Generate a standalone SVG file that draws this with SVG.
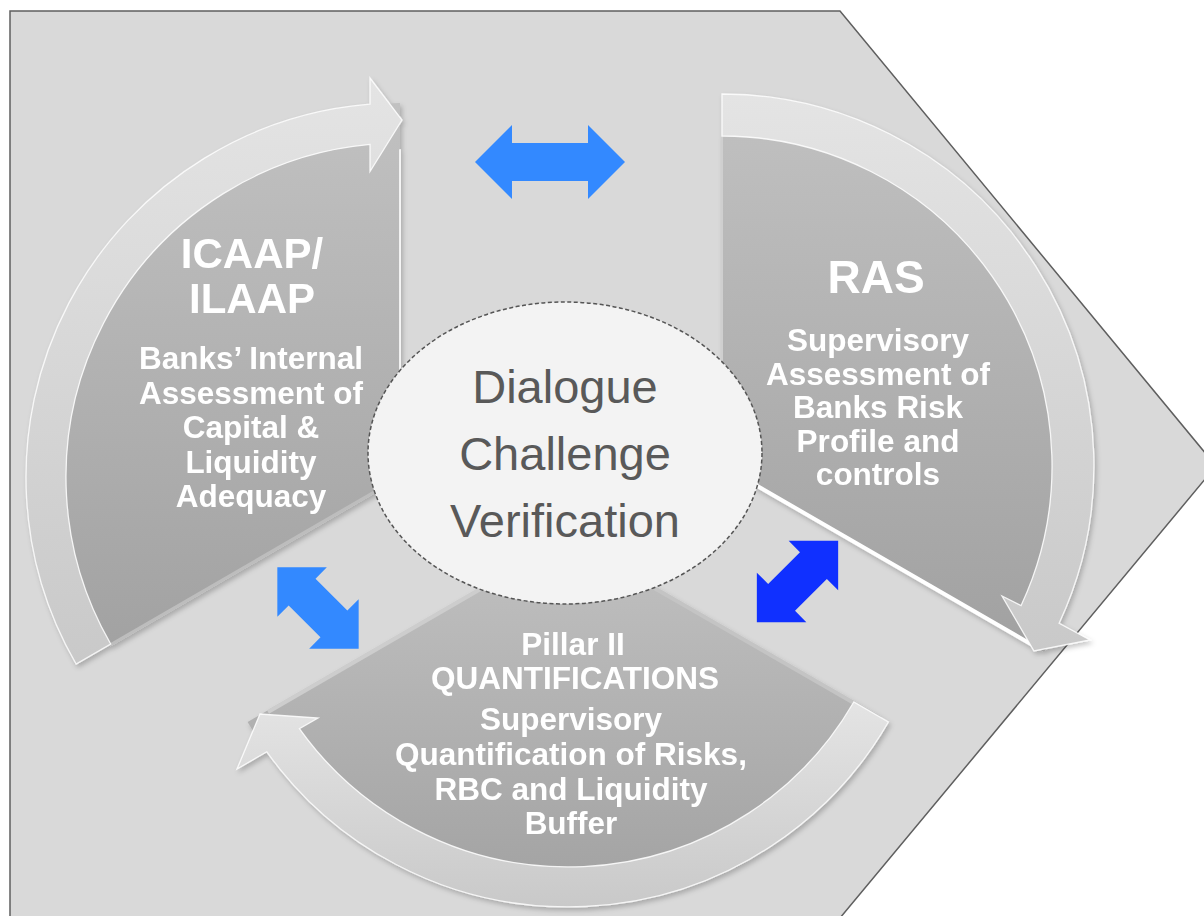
<svg xmlns="http://www.w3.org/2000/svg" width="1204" height="916" viewBox="0 0 1204 916">
<defs>
<linearGradient id="gSector" x1="0" y1="0" x2="0" y2="1"><stop offset="0" stop-color="#c1c1c1"/><stop offset="1" stop-color="#a1a1a1"/></linearGradient>
<linearGradient id="gBand" x1="0" y1="0" x2="0" y2="1"><stop offset="0" stop-color="#e4e4e4"/><stop offset="1" stop-color="#c9c9c9"/></linearGradient>
<filter id="sh" x="-10%" y="-10%" width="125%" height="125%"><feDropShadow dx="2" dy="3" stdDeviation="2.5" flood-color="#000" flood-opacity="0.22"/></filter>
<style>
.sector{fill:url(#gSector);}
.band{fill:url(#gBand);stroke:#ffffff;stroke-width:1.3;stroke-opacity:0.85;stroke-linejoin:miter;}
.hl{stroke:#ffffff;fill:none;stroke-linecap:round;}
.title{font-family:"Liberation Sans",Arial,sans-serif;font-weight:bold;fill:#ffffff;text-anchor:middle;}
.body{font-family:"Liberation Sans",Arial,sans-serif;font-weight:bold;fill:#ffffff;text-anchor:middle;font-size:31.5px;}
.center{font-family:"Liberation Sans",Arial,sans-serif;fill:#595959;text-anchor:middle;font-size:47px;}
.blue{fill:#3389ff;}
.dblue{fill:#1030ff;}
</style>
</defs>
<g id="background">
<polygon points="10,11 840,11 1216,466 830,930 10,930" fill="#d9d9d9" stroke="#5f5f5f" stroke-width="1.5"/>
</g>
<g id="node-icaap" filter="url(#sh)">
<path class="sector" d="M400,477 L400,103 A374,374 0 0 0 76.1,664 Z"/>
<line class="hl" x1="400" y1="150" x2="400" y2="470" stroke-width="2" stroke-opacity="0.8"/>
<line x1="110" y1="645" x2="400" y2="477" stroke="#bdbdbd" stroke-width="3"/>
<path class="band" d="M76.1,664 A374,374 0 0 1 370,104.2 L370,78 L402,120 L370,171.5 L370,144.4 A334,334 0 0 0 110.7,644 Z"/>
<text class="title" x="252" y="268" font-size="42">ICAAP/</text>
<text class="title" x="252" y="313" font-size="42">ILAAP</text>
<text class="body" x="251" y="369">Banks’ Internal</text>
<text class="body" x="251" y="403.6">Assessment of</text>
<text class="body" x="251" y="438.2">Capital &amp;</text>
<text class="body" x="251" y="472.8">Liquidity</text>
<text class="body" x="251" y="507.4">Adequacy</text>
</g>
<g id="node-ras" filter="url(#sh)">
<path class="sector" d="M722,466 L722,94 A372,372 0 0 1 1044.2,652 Z"/>
<line class="hl" x1="740" y1="476" x2="1036" y2="647" stroke-width="4"/>
<line x1="722" y1="136" x2="722" y2="466" stroke="#cfcfcf" stroke-width="2"/>
<path class="band" d="M722,94 A372,372 0 0 1 1059.1,623.2 L1090,640 L1034,651 L1002,596 L1021.1,605.5 A330,330 0 0 0 722,136 Z"/>
<text class="title" x="876" y="293" font-size="46">RAS</text>
<text class="body" x="878" y="351" font-size="32.5">Supervisory</text>
<text class="body" x="878" y="384.5" font-size="32.5">Assessment of</text>
<text class="body" x="878" y="418" font-size="32.5">Banks Risk</text>
<text class="body" x="878" y="451.5" font-size="32.5">Profile and</text>
<text class="body" x="878" y="485" font-size="32.5">controls</text>
</g>
<g id="node-pillar2" filter="url(#sh)">
<path class="sector" d="M568,537 L247.6,722 A370,370 0 0 0 888.4,722 Z"/>
<line x1="268" y1="712" x2="560" y2="543" stroke="#cdcdcd" stroke-width="4"/>
<line x1="576" y1="543" x2="880" y2="718" stroke="#c4c4c4" stroke-width="4"/>
<path class="band" d="M888.4,722 A370,370 0 0 1 266.8,751.8 L237,769 L260,714 L318,718 L299.4,728.6 A330,330 0 0 0 853.8,702 Z"/>
<text class="body" x="573" y="654.5" font-size="29.5">Pillar II</text>
<text class="body" x="575" y="688.5" font-size="30">QUANTIFICATIONS</text>
<text class="body" x="571" y="730" font-size="33">Supervisory</text>
<text class="body" x="571" y="765" font-size="33">Quantification of Risks,</text>
<text class="body" x="571" y="799.5" font-size="33">RBC and Liquidity</text>
<text class="body" x="571" y="834" font-size="33">Buffer</text>
</g>
<g id="node-center">
<ellipse cx="565" cy="453" rx="197" ry="151" fill="#f3f3f3" stroke="#555555" stroke-width="1.5" stroke-dasharray="4 2.5"/>
<text class="center" x="565" y="403">Dialogue</text>
<text class="center" x="565" y="470">Challenge</text>
<text class="center" x="565" y="537">Verification</text>
</g>
<g id="connectors">
<polygon class="blue" points="475,162 512,125 512,143 588,143 588,125 625,162 588,199 588,181 512,181 512,199"/>
<polygon class="blue" transform="translate(318,608) rotate(45)" points="-57.5,0 -22.5,-35 -22.5,-19 22.5,-19 22.5,-35 57.5,0 22.5,35 22.5,19 -22.5,19 -22.5,35"/>
<polygon class="dblue" transform="translate(797.5,581.5) rotate(-45)" points="-57.5,0 -22.5,-35 -22.5,-19 22.5,-19 22.5,-35 57.5,0 22.5,35 22.5,19 -22.5,19 -22.5,35"/>
</g>
</svg>
